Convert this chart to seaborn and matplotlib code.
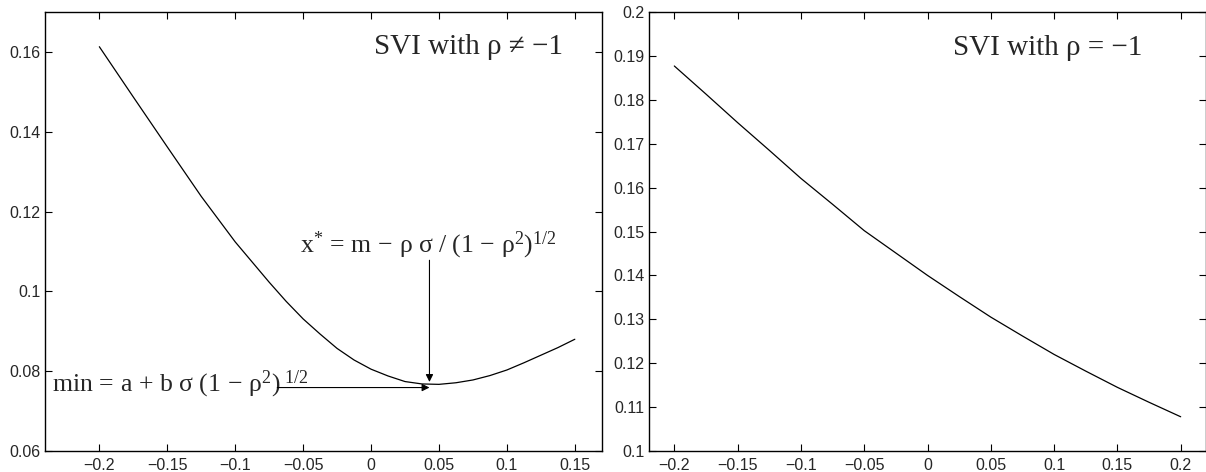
import matplotlib
matplotlib.use("Agg")
import matplotlib.pyplot as plt
import seaborn as sns
import pandas as pd

# SVI with rho != -1 (left panel)
left_x = [-0.2, -0.175, -0.15, -0.125, -0.1, -0.075, -0.0625, -0.05, -0.0375, -0.025,
          -0.0125, 0.0, 0.0125, 0.025, 0.0375, 0.05, 0.0625, 0.075, 0.0875, 0.1,
          0.1125, 0.125, 0.1375, 0.15]
left_y = [0.1613, 0.1487, 0.1362, 0.1238, 0.1124, 0.1023, 0.0975, 0.0931, 0.0893, 0.0857,
          0.0828, 0.0805, 0.0788, 0.0774, 0.0768, 0.0767, 0.0771, 0.0778, 0.0789, 0.0803,
          0.0821, 0.0840, 0.0859, 0.0880]

# SVI with rho = -1 (right panel)
right_x = [-0.2, -0.175, -0.15, -0.125, -0.1, -0.075, -0.05, -0.025, 0.0,
           0.025, 0.05, 0.075, 0.1, 0.125, 0.15, 0.175, 0.2]
right_y = [0.1877, 0.1813, 0.1748, 0.1685, 0.1621, 0.1562, 0.1502, 0.1451, 0.1400,
           0.1352, 0.1305, 0.1262, 0.1220, 0.1182, 0.1145, 0.1111, 0.1078]

# annotation points
x_star = 0.043
min_val = 0.0759

left_xticks = [-0.2, -0.15, -0.1, -0.05, 0.0, 0.05, 0.1, 0.15]
left_xlabels = ["\u22120.2", "\u22120.15", "\u22120.1", "\u22120.05", "0", "0.05", "0.1", "0.15"]
left_yticks = [0.06, 0.08, 0.1, 0.12, 0.14, 0.16]
left_ylabels = ["0.06", "0.08", "0.1", "0.12", "0.14", "0.16"]
right_xticks = [-0.2, -0.15, -0.1, -0.05, 0.0, 0.05, 0.1, 0.15, 0.2]
right_xlabels = ["\u22120.2", "\u22120.15", "\u22120.1", "\u22120.05", "0", "0.05", "0.1", "0.15", "0.2"]
right_yticks = [0.1, 0.11, 0.12, 0.13, 0.14, 0.15, 0.16, 0.17, 0.18, 0.19, 0.2]
right_ylabels = ["0.1", "0.11", "0.12", "0.13", "0.14", "0.15", "0.16", "0.17", "0.18", "0.19", "0.2"]

sns.set_style("ticks")
plt.rcParams["font.family"] = ["Liberation Sans", "DejaVu Sans"]
plt.rcParams["mathtext.fontset"] = "custom"
plt.rcParams["mathtext.rm"] = "Liberation Serif"
plt.rcParams["mathtext.it"] = "Liberation Serif:italic"
plt.rcParams["mathtext.bf"] = "Liberation Serif:bold"

serif = ["Liberation Serif", "DejaVu Serif"]

df_left = pd.DataFrame({"x": left_x, "y": left_y})
df_right = pd.DataFrame({"x": right_x, "y": right_y})

fig = plt.figure(figsize=(12.06, 4.72), dpi=100)
ax1 = fig.add_axes([45 / 1206, 21 / 472, 557 / 1206, 439 / 472])
ax2 = fig.add_axes([649 / 1206, 21 / 472, 557 / 1206, 439 / 472])

sns.lineplot(data=df_left, x="x", y="y", ax=ax1, color="black", linewidth=0.9)
sns.lineplot(data=df_right, x="x", y="y", ax=ax2, color="black", linewidth=0.9)

for ax, xt, xl, yt, yl in [(ax1, left_xticks, left_xlabels, left_yticks, left_ylabels),
                           (ax2, right_xticks, right_xlabels, right_yticks, right_ylabels)]:
    ax.set_xticks(xt)
    ax.set_xticklabels(xl)
    ax.set_yticks(yt)
    ax.set_yticklabels(yl)
    ax.tick_params(direction="in", length=5, width=0.8, labelsize=11.5, color="black",
                   top=True, right=True, pad=3)
    ax.tick_params(axis="x", pad=5)
    for s in ax.spines.values():
        s.set_visible(True)
        s.set_color("black")
        s.set_linewidth(1.0)
    ax.set_xlabel("")
    ax.set_ylabel("")

ax1.set_xlim(-0.24, 0.17)
ax1.set_ylim(0.06, 0.17)
ax2.set_xlim(-0.22, 0.22)
ax2.set_ylim(0.1, 0.2)

ax1.text(0.1414, 0.1612, "SVI with \u03c1 \u2260 \u22121", fontsize=21, family=serif,
         ha="right", va="center")
ax2.text(0.1694, 0.1918, "SVI with \u03c1 = \u22121", fontsize=21, family=serif,
         ha="right", va="center")

ax1.text(-0.0522, 0.1098,
         r"$\mathrm{x^{*}\,=\,m\,-\,ρ\ σ\ /\ (1\,-\,ρ^{2})^{1/2}}$",
         fontsize=18.5, ha="left", va="baseline")
ax1.text(-0.2348, 0.0748,
         r"$\mathrm{min\,=\,a\,+\,b\ σ\ (1\,-\,ρ^{2})^{\ 1/2}}$",
         fontsize=18.5, ha="left", va="baseline")

arrow = dict(arrowstyle="-|>", color="black", lw=0.8, mutation_scale=11,
             shrinkA=0, shrinkB=0)
ax1.annotate("", xy=(x_star, 0.0773), xytext=(x_star, 0.1078), arrowprops=arrow)
ax1.annotate("", xy=(x_star, min_val), xytext=(-0.069, min_val), arrowprops=arrow)

fig.savefig("out.png", dpi=100)
